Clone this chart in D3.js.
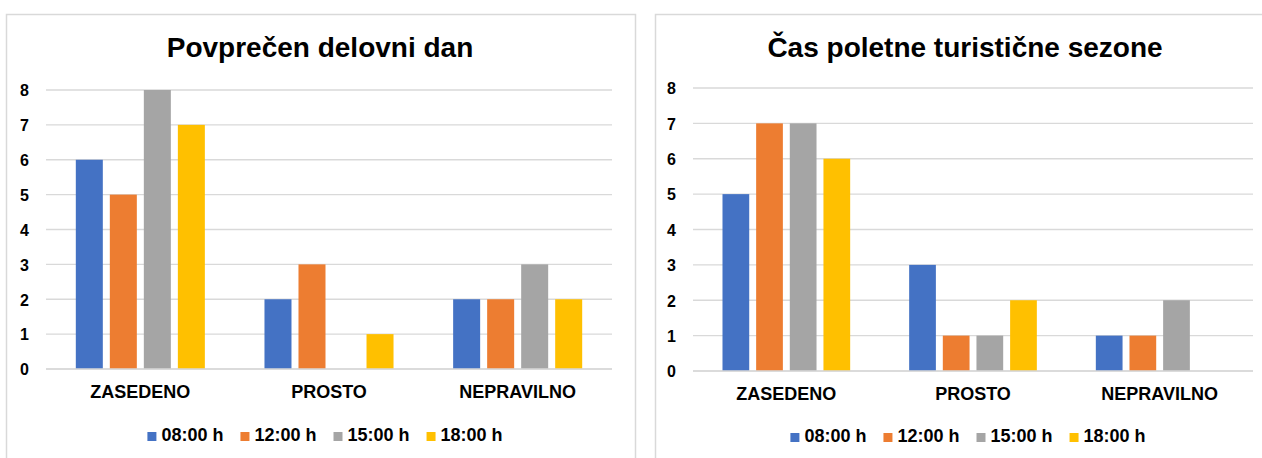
<!DOCTYPE html>
<html>
<head>
<meta charset="utf-8">
<script src="https://cdn.jsdelivr.net/npm/d3@7"></script>
<style>
  html, body { margin: 0; padding: 0; background: #ffffff; }
  svg { display: block; }
  text { font-family: "Liberation Sans", Arial, sans-serif; font-weight: bold; fill: #000; }
</style>
</head>
<body>
<svg id="chart" width="1262" height="458"></svg>
<script>
// ---- data ----
const categories = ["ZASEDENO", "PROSTO", "NEPRAVILNO"];
const seriesNames = ["08:00 h", "12:00 h", "15:00 h", "18:00 h"];
const seriesColors = ["#4472C4", "#ED7D31", "#A5A5A5", "#FFC000"];
const yTicks = [0, 1, 2, 3, 4, 5, 6, 7, 8];

const title1 = "Povprečen delovni dan";
const values1_0800 = [6, 2, 2];
const values1_1200 = [5, 3, 2];
const values1_1500 = [8, 0, 3];
const values1_1800 = [7, 1, 2];

const title2 = "Čas poletne turistične sezone";
const values2_0800 = [5, 3, 1];
const values2_1200 = [7, 1, 1];
const values2_1500 = [7, 1, 2];
const values2_1800 = [6, 2, 0];

const svg = d3.select("#chart");

function drawPanel(cfg) {
  const g = svg.append("g");
  // panel border
  g.append("rect")
    .attr("x", cfg.panel.x).attr("y", cfg.panel.y)
    .attr("width", cfg.panel.w).attr("height", cfg.panel.h)
    .attr("fill", "#fff").attr("stroke", "#d9d9d9").attr("stroke-width", 1.5);

  const y = d3.scaleLinear().domain([0, 8]).range([cfg.plot.bottom, cfg.plot.top]);
  const x0 = d3.scaleBand().domain(categories).range([cfg.plot.left, cfg.plot.right]).padding(0);
  const groupW = x0.bandwidth() * 0.684;
  const x1 = d3.scaleBand().domain(seriesNames)
    .range([(x0.bandwidth() - groupW) / 2, (x0.bandwidth() + groupW) / 2])
    .paddingInner(0.206).paddingOuter(0);

  // gridlines
  g.append("g").selectAll("line").data(yTicks).join("line")
    .attr("x1", cfg.plot.left).attr("x2", cfg.plot.right)
    .attr("y1", d => y(d)).attr("y2", d => y(d))
    .attr("stroke", "#d9d9d9").attr("stroke-width", 1.3);

  // y axis labels
  const yAxis = d3.axisLeft(y).tickValues(yTicks).tickSize(0).tickPadding(0).tickFormat(d3.format("d"));
  const ya = g.append("g").attr("transform", `translate(${cfg.plot.left - 17},0)`).call(yAxis);
  ya.select(".domain").remove();
  ya.selectAll("text").attr("font-size", 16).attr("font-family", "'Liberation Sans', Arial, sans-serif")
    .attr("font-weight", "bold").attr("fill", "#000").attr("dy", "0.36em");

  // bars
  const series = cfg.series;
  const grp = g.append("g").selectAll("g").data(categories).join("g")
    .attr("transform", d => `translate(${x0(d)},0)`);
  grp.selectAll("rect").data((c, ci) => series.map((s, si) => ({ name: seriesNames[si], v: s[ci], color: seriesColors[si] })))
    .join("rect")
    .attr("x", d => x1(d.name))
    .attr("width", x1.bandwidth())
    .attr("y", d => y(d.v))
    .attr("height", d => y(0) - y(d.v))
    .attr("fill", d => d.color);

  // redraw zero baseline on top
  g.append("line").attr("x1", cfg.plot.left).attr("x2", cfg.plot.right)
    .attr("y1", y(0)).attr("y2", y(0)).attr("stroke", "#d9d9d9").attr("stroke-width", 1.3);

  // category labels
  const xAxis = d3.axisBottom(x0).tickSize(0).tickPadding(0);
  const xa = g.append("g").attr("transform", `translate(0,${cfg.plot.bottom + 28.5})`).call(xAxis);
  xa.select(".domain").remove();
  xa.selectAll("text").attr("font-size", 18).attr("font-family", "'Liberation Sans', Arial, sans-serif")
    .attr("font-weight", "bold").attr("fill", "#000").attr("dy", 0).attr("y", 0);

  // title
  g.append("text").attr("x", cfg.titleX).attr("y", cfg.titleY)
    .attr("text-anchor", "middle").attr("font-size", 28).text(cfg.title);

  // legend
  const lg = g.append("g");
  const items = seriesNames.map((n, i) => {
    const it = lg.append("g");
    it.append("rect").attr("width", 9).attr("height", 9).attr("y", -9).attr("fill", seriesColors[i]);
    const t = it.append("text").attr("x", 14).attr("y", 0).attr("font-size", 18).text(n);
    return { g: it, w: 14 + t.node().getComputedTextLength() };
  });
  const gap = 17;
  const total = d3.sum(items, d => d.w) + gap * (items.length - 1);
  let cx = cfg.legendCenter - total / 2;
  items.forEach(it => {
    it.g.attr("transform", `translate(${cx},${cfg.legendY})`);
    cx += it.w + gap;
  });
}

drawPanel({
  panel: { x: 6.5, y: 14.5, w: 629, h: 460 },
  plot: { left: 46, right: 612, top: 90, bottom: 369 },
  title: title1, titleX: 320, titleY: 57,
  series: [values1_0800, values1_1200, values1_1500, values1_1800],
  legendCenter: 325, legendY: 441
});

drawPanel({
  panel: { x: 655.5, y: 14.5, w: 620, h: 460 },
  plot: { left: 693, right: 1253, top: 88, bottom: 371 },
  title: title2, titleX: 965, titleY: 57,
  series: [values2_0800, values2_1200, values2_1500, values2_1800],
  legendCenter: 968, legendY: 442
});
</script>
</body>
</html>
